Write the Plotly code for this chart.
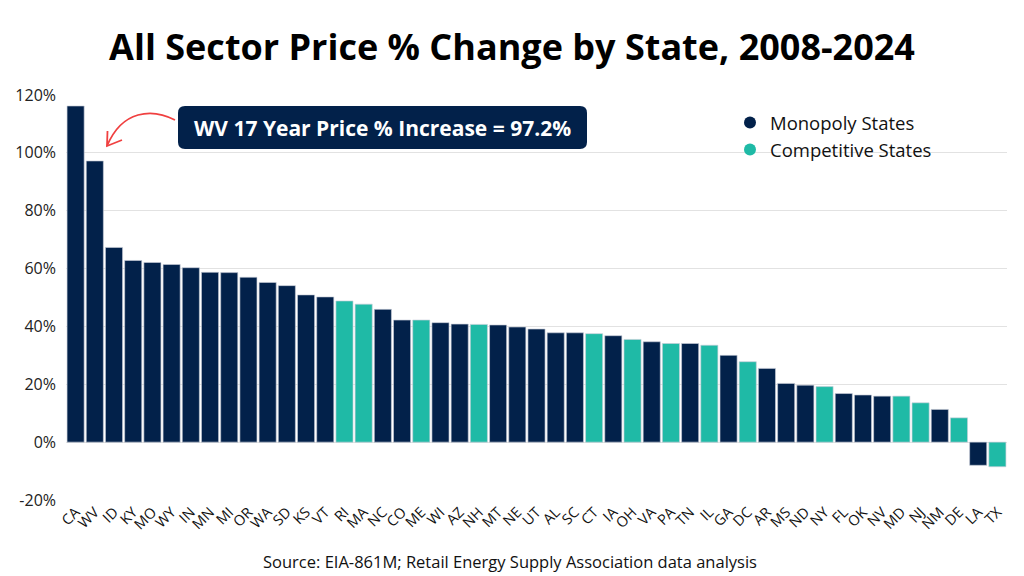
import plotly.graph_objects as go

states = ["CA","WV","ID","KY","MO","WY","IN","MN","MI","OR","WA","SD","KS","VT","RI","MA","NC","CO","ME","WI",
          "AZ","NH","MT","NE","UT","AL","SC","CT","IA","OH","VA","PA","TN","IL","GA","DC","AR","MS","ND","NY",
          "FL","OK","NV","MD","NJ","NM","DE","LA","TX"]
pct_change = [116.2, 97.2, 67.3, 62.8, 62.1, 61.4, 60.3, 58.7, 58.6, 57.0, 55.2, 54.1, 50.9, 50.2, 48.8, 47.7, 45.9, 42.2, 42.2, 41.3,
              40.8, 40.7, 40.5, 39.8, 39.1, 37.8, 37.8, 37.5, 36.8, 35.5, 34.7, 34.1, 34.1, 33.5, 30.0, 27.8, 25.5, 20.3, 19.7, 19.2,
              16.8, 16.3, 15.9, 15.9, 13.6, 11.3, 8.4, -8.0, -8.5]
competitive = {"RI","MA","ME","NH","CT","OH","PA","IL","DC","NY","MD","NJ","DE","TX"}
y_ticks = [-20, 0, 20, 40, 60, 80, 100, 120]
y_tick_labels = ["-20%", "0%", "20%", "40%", "60%", "80%", "100%", "120%"]
highlight_state = "WV"

NAVY = "#02214A"
TEAL = "#1FBAA6"
FONT = "Open Sans"

colors = [TEAL if s in competitive else NAVY for s in states]

# page offset (body margin) and figure size
OFF = 8
W, H = 1024 - OFF, 576 - OFF
# plot area edges in screen pixels
SL, SR, ST, SB = 66, 1007, 95, 500
L, R, T, B = SL - OFF, W - (SR - OFF), ST - OFF, H - (SB - OFF)
PW, PH = SR - SL, SB - ST

def px(x):
    return (x - SL) / PW

def py(y):
    return (SB - y) / PH

def rounded_rect(x0, y0, x1, y1, r):
    return (f"M {px(x0+r)},{py(y0)} L {px(x1-r)},{py(y0)} Q {px(x1)},{py(y0)} {px(x1)},{py(y0+r)} "
            f"L {px(x1)},{py(y1-r)} Q {px(x1)},{py(y1)} {px(x1-r)},{py(y1)} "
            f"L {px(x0+r)},{py(y1)} Q {px(x0)},{py(y1)} {px(x0)},{py(y1-r)} "
            f"L {px(x0)},{py(y0+r)} Q {px(x0)},{py(y0)} {px(x0+r)},{py(y0)} Z")

fig = go.Figure()
fig.add_trace(go.Bar(
    x=states, y=pct_change,
    marker=dict(color=colors, line=dict(color="rgba(200,205,215,0.8)", width=0.8)),
    showlegend=False, hoverinfo="x+y"))

fig.add_trace(go.Scatter(x=[None], y=[None], mode="markers", name="Monopoly States",
                         marker=dict(color=NAVY, size=18, symbol="circle")))
fig.add_trace(go.Scatter(x=[None], y=[None], mode="markers", name="Competitive States",
                         marker=dict(color=TEAL, size=18, symbol="circle")))

hv = pct_change[states.index(highlight_state)]

shapes = [
    dict(type="path", xref="paper", yref="paper", path=rounded_rect(178, 106, 587, 149, 7),
         fillcolor=NAVY, line=dict(width=0), layer="above"),
    dict(type="path", xref="paper", yref="paper",
         path=f"M {px(175)},{py(120)} C {px(152)},{py(108)} {px(122)},{py(110)} {px(107)},{py(146)}",
         line=dict(color="#F04040", width=1.8), layer="above"),
    dict(type="path", xref="paper", yref="paper",
         path=f"M {px(107.5)},{py(131)} L {px(107)},{py(146)} L {px(122)},{py(140)}",
         line=dict(color="#F04040", width=1.8), layer="above"),
]

annotations = [
    dict(xref="paper", yref="paper", x=px(382), y=py(128), xanchor="center", yanchor="middle",
         text=f"<b>{highlight_state} 17 Year Price % Increase = {hv:.1f}%</b>", showarrow=False,
         font=dict(family=FONT, size=21, color="white")),
    dict(xref="paper", yref="paper", x=px(510), y=py(561), xanchor="center", yanchor="middle",
         text="Source: EIA-861M; Retail Energy Supply Association data analysis", showarrow=False,
         font=dict(family=FONT, size=16.5, color="#111")),
]

fig.update_layout(
    width=W, height=H,
    margin=dict(l=L, r=R, t=T, b=B, autoexpand=False),
    paper_bgcolor="white", plot_bgcolor="white",
    title=dict(text="<b>All Sector Price % Change by State, 2008-2024</b>", x=(512 - OFF) / W, xanchor="center",
               y=1 - (47 - OFF) / H, yanchor="middle", font=dict(family=FONT, size=36, color="#000")),
    bargap=0.11,
    xaxis=dict(type="category", tickangle=-45, tickfont=dict(family=FONT, size=14.5, color="#111"),
               showgrid=False, ticks="", showline=False, automargin=False),
    yaxis=dict(range=[-20, 120], tickvals=y_ticks, ticktext=y_tick_labels,
               tickfont=dict(family=FONT, size=16, color="#222"), showgrid=True, gridcolor="#E2E2E2",
               gridwidth=1, zeroline=True, zerolinecolor="#E2E2E2", zerolinewidth=1, ticks="", showline=False,
               ticklabelstandoff=9, automargin=False),
    legend=dict(x=px(730), y=py(104), xanchor="left", yanchor="top", font=dict(family=FONT, size=18.5, color="#111"),
                bgcolor="rgba(0,0,0,0)", itemsizing="constant", tracegroupgap=6),
    shapes=shapes, annotations=annotations,
    font=dict(family=FONT),
)

fig.write_html("out.html")
